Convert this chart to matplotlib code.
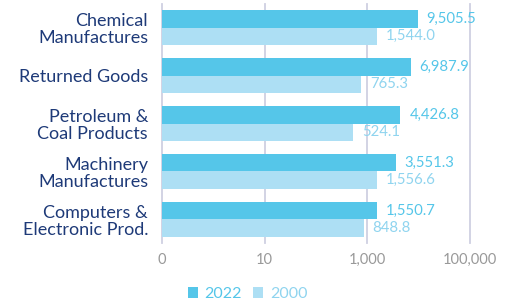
import numpy as np
import matplotlib.pyplot as plt

categories = ['Chemical\nManufactures', 'Returned Goods', 'Petroleum &\nCoal Products',
              'Machinery\nManufactures', 'Computers &\nElectronic Prod.']
vals_2022 = [9505.5, 6987.9, 4426.8, 3551.3, 1550.7]
vals_2000 = [1544.0, 765.3, 524.1, 1556.6, 848.8]
tick_vals = [0.1, 10, 1000, 100000]
tick_labels = ['0', '10', '1,000', '100,000']

c2022 = '#55c6e9'
c2000 = '#addff4'
grid_c = '#cfd0e2'
navy = '#1e3a78'

plt.rcParams['font.family'] = ['Lato', 'DejaVu Sans']

fig = plt.figure(figsize=(5.05, 3.05), dpi=100)
ax = fig.add_axes([162/505, 1-243/305, (470-162)/505, (243-4)/305])

y = np.arange(len(categories))
h = 0.36
ax.barh(y - h/2, vals_2022, height=h, color=c2022, label='2022', zorder=3)
ax.barh(y + h/2, vals_2000, height=h, color=c2000, label='2000', zorder=3)

for i in range(len(categories)):
    ax.annotate(f'{vals_2022[i]:,.1f}', (vals_2022[i], y[i] - h/2), xytext=(6.5, 0),
                textcoords='offset points', va='center', ha='left', fontsize=10.7, color=c2022)
    ax.annotate(f'{vals_2000[i]:,.1f}', (vals_2000[i], y[i] + h/2), xytext=(6.5, 0),
                textcoords='offset points', va='center', ha='left', fontsize=10.7, color='#8fd4ef')

ax.set_xscale('log')
ax.set_xlim(0.1, 100000)
ax.set_ylim(len(categories) - 0.51, -0.49)
ax.set_xticks(tick_vals)
ax.set_xticklabels(tick_labels)
ax.minorticks_off()
ax.set_yticks(y)
ax.set_yticklabels(categories, fontsize=13, color=navy, linespacing=1.1)
ax.tick_params(axis='y', length=0, pad=10)
ax.tick_params(axis='x', length=0, pad=7, labelsize=10.5, labelcolor='#999999')

for v in tick_vals[1:]:
    ax.axvline(v, color=grid_c, lw=1.3, zorder=1, clip_on=False)

for s in ['top', 'right', 'bottom']:
    ax.spines[s].set_visible(False)
ax.spines['left'].set_color(grid_c)
ax.spines['left'].set_linewidth(1.3)

leg = fig.legend(loc='lower center', bbox_to_anchor=(0.49, -0.035), ncol=2, frameon=False,
                 fontsize=11.5, handlelength=0.65, handleheight=0.65, handletextpad=0.4,
                 columnspacing=0.7)
for t, c in zip(leg.get_texts(), [c2022, '#8fd4ef']):
    t.set_color(c)

fig.savefig('out.png', dpi=100)
